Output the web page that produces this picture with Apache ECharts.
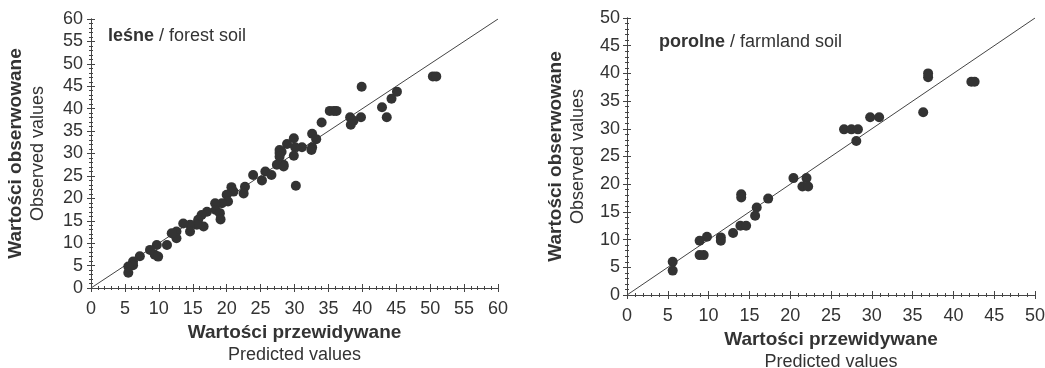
<!DOCTYPE html>
<html>
<head>
<meta charset="utf-8">
<script src="https://cdn.jsdelivr.net/npm/echarts@6/dist/echarts.min.js"></script>
<style>
  html, body { margin: 0; padding: 0; background: #fff; }
  #chart { width: 1045px; height: 368px; }
</style>
</head>
<body>
<div id="chart"></div>
<script>
// leśne / forest soil
const forestPredicted = [39.9, 50.4, 50.9, 45.1, 44.3, 42.9, 43.6, 35.2, 35.8, 36.2, 34.0, 39.8, 38.2, 38.7, 38.3,
  32.6, 33.2, 29.9, 28.9, 31.1, 30.1, 32.6, 28.1, 29.9, 28.4, 30.2, 32.5, 27.8, 27.8, 27.8, 27.4, 28.4,
  25.7, 26.6, 23.9, 25.2, 22.7, 22.5, 20.7, 21.0, 20.0, 20.2, 19.3, 18.3, 18.4, 19.0, 19.1, 17.1, 16.3,
  15.8, 16.6, 15.6, 14.6, 14.6, 13.6, 12.6, 12.6, 11.9, 11.2, 9.7, 9.4, 9.9, 8.7, 7.2, 6.2, 6.2, 5.5, 5.5]
const forestObserved = [44.9, 47.2, 47.2, 43.8, 42.2, 40.3, 38.1, 39.5, 39.5, 39.5, 36.9, 38.1, 38.1, 37.3, 36.4,
  34.4, 33.2, 33.4, 32.1, 31.4, 31.4, 31.4, 30.4, 29.5, 27.5, 22.8, 30.8, 30.8, 30.1, 29.3, 27.5, 27.1,
  26.0, 25.2, 25.2, 24.0, 22.6, 21.1, 22.5, 21.5, 20.8, 19.3, 18.9, 18.9, 17.4, 16.7, 15.3, 17.0, 16.3,
  15.2, 13.7, 14.1, 14.1, 12.6, 14.4, 12.6, 11.1, 12.2, 9.6, 9.6, 7.4, 7.0, 8.5, 7.1, 5.9, 5.1, 4.8, 3.4]

// porolne / farmland soil
const farmPredicted = [36.9, 36.9, 42.2, 42.6, 36.3, 29.8, 30.9, 26.6, 27.5, 28.3, 28.1, 20.4, 22.0, 21.5, 22.2,
  14.0, 14.0, 17.3, 15.9, 15.7, 13.9, 14.6, 13.0, 11.5, 11.5, 9.8, 8.9, 8.9, 9.4, 5.6, 5.6]
const farmObserved = [39.3, 40.0, 38.5, 38.5, 33.0, 32.1, 32.1, 29.9, 29.9, 29.9, 27.8, 21.1, 21.1, 19.6, 19.6,
  18.2, 17.6, 17.4, 15.8, 14.3, 12.5, 12.5, 11.2, 10.4, 9.8, 10.5, 9.8, 7.2, 7.2, 6.0, 4.4]

const forestMax = 60
const farmMax = 50
const tickStep = 5

const textColor = '#333'
const lineColor = '#444'
const font = 'Liberation Sans, Arial, sans-serif'

const zip = (xs, ys) => xs.map((x, i) => [x, ys[i]])

const axisNameRich = {
  b: { fontFamily: font, fontWeight: 'bold', fontSize: 19, lineHeight: 22, color: textColor },
  n: { fontFamily: font, fontSize: 18, lineHeight: 22, color: textColor }
}

function mainAxis (gridIndex, max, position, name, nameGap, labelMargin) {
  return {
    type: 'value',
    gridIndex: gridIndex,
    position: position,
    min: 0,
    max: max,
    interval: tickStep,
    name: name,
    nameLocation: 'middle',
    nameGap: nameGap,
    nameRotate: (position === 'left') ? 90 : 0,
    nameTextStyle: { rich: axisNameRich },
    axisLine: { show: true, lineStyle: { color: lineColor, width: 1 } },
    axisTick: { show: true, inside: true, length: 4, lineStyle: { color: lineColor } },
    minorTick: { show: true, splitNumber: 5, length: 2, lineStyle: { color: lineColor } },
    axisLabel: { show: true, margin: labelMargin, fontSize: 18, fontFamily: font, color: textColor },
    splitLine: { show: false }
  }
}

function frameAxis (gridIndex, max, position) {
  return {
    type: 'value',
    gridIndex: gridIndex,
    position: position,
    min: 0,
    max: max,
    interval: tickStep,
    axisLine: { show: true, lineStyle: { color: lineColor, width: 1 } },
    axisTick: { show: true, inside: true, length: 4, lineStyle: { color: lineColor } },
    minorTick: { show: true, splitNumber: 5, length: 2, lineStyle: { color: lineColor } },
    axisLabel: { show: false },
    splitLine: { show: false }
  }
}

const xName = '{b|Wartości przewidywane}\n{n|Predicted values}'
const yName = '{b|Wartości obserwowane}\n{n|Observed values}'

const myChart = echarts.init(document.getElementById('chart'))
myChart.setOption({
  animation: false,
  grid: [
    { left: 91, top: 19, width: 407, height: 269, outerBoundsMode: 'none' },
    { left: 627, top: 18, width: 408, height: 277, outerBoundsMode: 'none' }
  ],
  xAxis: [
    mainAxis(0, forestMax, 'bottom', xName, 34, 12),
    frameAxis(0, forestMax, 'top'),
    mainAxis(1, farmMax, 'bottom', xName, 34, 12),
    frameAxis(1, farmMax, 'top')
  ],
  yAxis: [
    mainAxis(0, forestMax, 'left', yName, 42, 8),
    frameAxis(0, forestMax, 'right'),
    mainAxis(1, farmMax, 'left', yName, 38, 7),
    frameAxis(1, farmMax, 'right')
  ],
  graphic: [
    {
      type: 'text', left: 108, top: 27,
      style: {
        text: '{b|leśne} / forest soil',
        fontFamily: font, fontSize: 18, fill: textColor,
        rich: { b: { fontFamily: font, fontSize: 18, fontWeight: 'bold', fill: textColor } }
      }
    },
    {
      type: 'text', left: 659, top: 33,
      style: {
        text: '{b|porolne} / farmland soil',
        fontFamily: font, fontSize: 18, fill: textColor,
        rich: { b: { fontFamily: font, fontSize: 18, fontWeight: 'bold', fill: textColor } }
      }
    }
  ],
  series: [
    {
      type: 'line', xAxisIndex: 0, yAxisIndex: 0,
      data: [[0, 0], [forestMax, forestMax]],
      symbol: 'none', lineStyle: { color: lineColor, width: 1 }, z: 1
    },
    {
      type: 'scatter', xAxisIndex: 0, yAxisIndex: 0,
      data: zip(forestPredicted, forestObserved),
      symbolSize: 10, itemStyle: { color: '#333', opacity: 1 }, z: 2
    },
    {
      type: 'line', xAxisIndex: 2, yAxisIndex: 2,
      data: [[0, 0], [farmMax, farmMax]],
      symbol: 'none', lineStyle: { color: lineColor, width: 1 }, z: 1
    },
    {
      type: 'scatter', xAxisIndex: 2, yAxisIndex: 2,
      data: zip(farmPredicted, farmObserved),
      symbolSize: 10, itemStyle: { color: '#333', opacity: 1 }, z: 2
    }
  ]
})
</script>
</body>
</html>
